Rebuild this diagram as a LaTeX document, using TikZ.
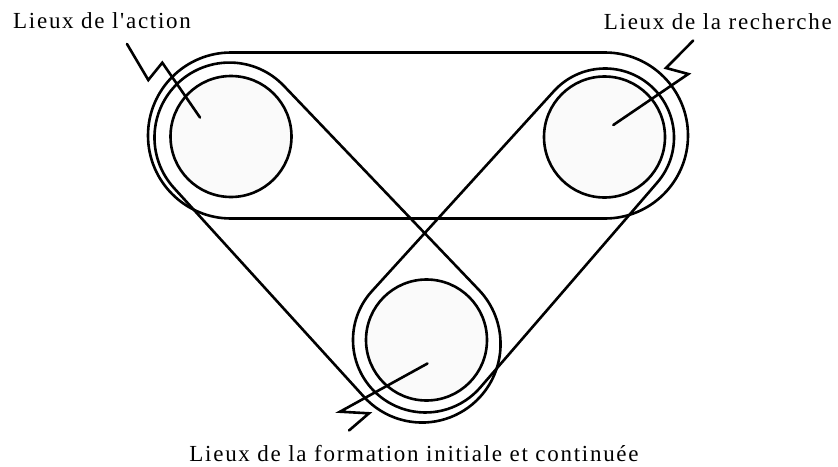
\documentclass[tikz,border=0pt]{standalone}
\usepackage{fontspec}
\newfontfamily\lieuxfont[LetterSpace=7.5]{Liberation Serif}

\begin{document}
\begin{tikzpicture}[x=1pt,y=-1pt,line cap=round,line join=round,
    trait/.style={line width=2.6pt},
    renvoi/.style={line width=2.6pt,line join=miter},
    lieu/.style={circle,draw,line width=2.6pt,fill=black!2,minimum size=121pt,inner sep=0pt},
    etiquette/.style={inner sep=0pt,font=\fontsize{23pt}{27pt}\lieuxfont}]
        \useasboundingbox (0,0) rectangle (838,466);

        % Les trois lieux
        \node[lieu] (action) at (231,136.5) {};
        \node[lieu] (recherche) at (604.5,137) {};
        \node[lieu] (formation) at (426.5,340) {};

        % Action -- recherche
        \draw[trait] (231,52.5) -- (605,52.5) arc[start angle=-90,end angle=90,radius=83]
            -- (231,218.5) arc[start angle=90,end angle=270,radius=83] -- cycle;

        % Action -- formation
        \draw[trait] (283.7,85.7) -- (478.8,289.8) arc[start angle=-43.71,end angle=137.71,radius=78.5]
            -- (174.0,188.0) arc[start angle=137.71,end angle=316.29,radius=75] -- cycle;

        % Recherche -- formation
        \draw[trait] (553.95,91.07) -- (371.86,291.21) arc[start angle=222.29,end angle=40.81,radius=72.5]
            -- (657.23,182.59) arc[start angle=40.81,end angle=-137.71,radius=69] -- cycle;

        % Etiquettes
        \node[etiquette,anchor=base west] (lab-action) at (13,28) {Lieux de l'action};
        \node[etiquette,anchor=base east] (lab-recherche) at (832,29) {Lieux de la recherche};
        \node[etiquette,anchor=base] (lab-formation) at (414,461)
            {Lieux de la formation initiale et continuée};

        % Renvois en zigzag
        \coordinate (za) at (127,44);
        \coordinate (pa) at (200,117.5);
        \draw[renvoi] (za) -- (148.3,80) -- (162.3,62.7) -- (pa);
        \coordinate (zr) at (693.3,40.5);
        \coordinate (pr) at (613.3,125);
        \draw[renvoi] (zr) -- (666,68) -- (688.3,74) -- (pr);
        \coordinate (zf) at (349,430.5);
        \coordinate (pf) at (427.5,363.5);
        \draw[renvoi] (zf) -- (369,413.3) -- (340,411.7) -- (pf);

    \end{tikzpicture}
\end{document}
